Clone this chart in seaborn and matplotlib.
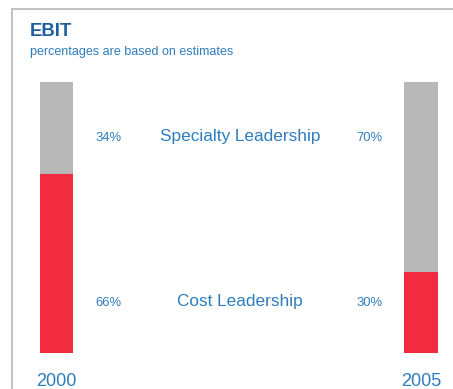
import matplotlib
matplotlib.use("Agg")
import matplotlib.pyplot as plt
from matplotlib.lines import Line2D
import seaborn as sns
import pandas as pd

# ---- data ----
years = ["2000", "2005"]
specialty = [34, 70]
cost = [66, 30]
segment_names = ["Specialty Leadership", "Cost Leadership"]
title = "EBIT"
subtitle = "percentages are based on estimates"

RED = "#F22B41"
GRAY = "#B8B8B9"
BLUE_DARK = "#1C5F9C"
BLUE = "#2E7DBD"

sns.set_theme(style="white")
plt.rcParams["font.family"] = ["Liberation Sans", "DejaVu Sans"]

W, H = 453, 389
fig = plt.figure(figsize=(W / 100, H / 100), dpi=100)
ax = fig.add_axes([0, 0, 1, 1])

df = pd.DataFrame({
    "year": years,
    "total": [s + c for s, c in zip(specialty, cost)],
    "cost": cost,
})

sns.barplot(data=df, x="year", y="total", color=GRAY, width=0.092,
            saturation=1, ax=ax, order=years, linewidth=0, edgecolor="none")
sns.barplot(data=df, x="year", y="cost", color=RED, width=0.092,
            saturation=1, ax=ax, order=years, linewidth=0, edgecolor="none")

# map: x=0 -> px 56.5, x=1 -> px 421 ; y=0 -> px 353, y=100 -> px 82
xu = 421 - 56.5
yu = (353 - 82) / 100
ax.set_xlim(-56.5 / xu, 1 + (W - 421) / xu)
ax.set_ylim(-(H - 353) / yu, 100 + 82 / yu)
ax.axis("off")

# segment labels
spec_base = (353 - 141) / yu
cost_base = (353 - 306) / yu
left_pct_x = (95 - 56.5) / xu
right_pct_x = (356 - 56.5) / xu
mid_x = (240 - 56.5) / xu
for ypos, vals, name in [(spec_base, specialty, segment_names[0]),
                         (cost_base, cost, segment_names[1])]:
    ax.text(left_pct_x, ypos, f"{vals[0]}%", color=BLUE, fontsize=9.4,
            ha="left", va="baseline")
    ax.text(right_pct_x, ypos, f"{vals[1]}%", color=BLUE, fontsize=9.4,
            ha="left", va="baseline")
    ax.text(mid_x, ypos, name, color=BLUE, fontsize=12.4,
            ha="center", va="baseline")

# year labels
year_base = -(386.5 - 353) / yu
for i, y in enumerate(years):
    ax.text(i, year_base, y, color=BLUE, fontsize=13, ha="center", va="baseline")

# title and subtitle
fig.text(29.5 / W, 1 - 36 / H, title, color=BLUE_DARK, fontsize=13.3,
         fontweight="bold", ha="left", va="baseline")
fig.text(29.5 / W, 1 - 55 / H, subtitle, color=BLUE, fontsize=9,
         ha="left", va="baseline")

# frame lines
fig.add_artist(Line2D([11.5 / W, 1], [1 - 8.5 / H, 1 - 8.5 / H],
                      transform=fig.transFigure, color="#BDBDBD", lw=1.3))
fig.add_artist(Line2D([11.5 / W, 11.5 / W], [0, 1 - 8.5 / H],
                      transform=fig.transFigure, color="#BDBDBD", lw=1.3))

fig.savefig("out.png", dpi=100, facecolor="white")
